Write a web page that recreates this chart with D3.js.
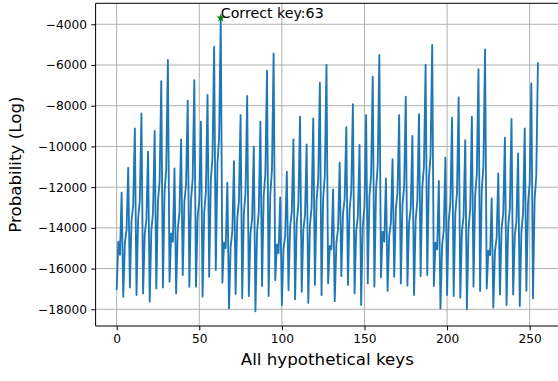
<!DOCTYPE html>
<html>
<head>
  <meta charset="utf-8">
  <title>Key ranking</title>
  <script src="https://d3js.org/d3.v7.min.js"></script>
  <style>
    body { margin: 0; background: #fff; }
    svg { display: block; }
  </style>
</head>
<body>
  <div id="chart"></div>
  <script>
  // log-probability per hypothetical key (0..255)
  var logProb = [
    -17050, -14680, -15330, -12270,  -17380, -14720, -14090, -11050,
    -16930, -13650, -12860,  -9110,  -17300, -13550, -12660,  -8380,
    -17220, -14300, -13600, -10260,  -17630, -14110, -13270,  -9240,
    -16980, -12700, -11680,  -6790,  -16930, -12230, -11120,  -5750,
    -16650, -14270, -14680, -11080,  -17220, -14040, -13280,  -9650,
    -16320, -12720, -11860,  -7750,  -16890, -12630, -11610,  -6740,
    -16890, -13480, -12670,  -8780,  -17380, -13220, -12230,  -7470,
    -16400, -11650, -10520,  -5100,  -16070, -10850,  -9600,  -3690,
    -16700, -14730, -15000, -11780,  -17960, -14920, -14200, -10720,
    -17250, -13560, -12680,  -8460,  -17460, -13290, -12290,  -7520,
    -17350, -14270, -13530, -10010,  -18100, -14170, -13240,  -8780,
    -16860, -12420, -11360,  -6280,  -17350, -12340, -11150,  -5430,
    -16560, -14810, -15250, -12500,  -17790, -15040, -14380, -11240,
    -17060, -13950, -13210,  -9650,  -17510, -13740, -12850,  -8540,
    -17140, -14100, -13380,  -9900,  -17680, -13880, -12970,  -8620,
    -16810, -12640, -11640,  -6870,  -17300, -12550, -11420,  -6000,
    -16730, -14890, -15060, -12110,  -17600, -14740, -14060, -10800,
    -16370, -13300, -12570,  -9060,  -16810, -13080, -12190,  -7920,
    -17220, -14160, -13430,  -9930,  -17790, -13870, -12940,  -8460,
    -16730, -12460, -11450,  -6570,  -16890, -12110, -10970,  -5510,
    -16430, -14190, -14680, -11570,  -17090, -14380, -13730, -10630,
    -16400, -13070, -12270,  -8460,  -16730, -12880, -11960,  -7560,
    -16840, -13750, -13020,  -9490,  -17300, -13570, -12680,  -8410,
    -16370, -12010, -10980,  -6000,  -16320, -11570, -10440,  -5020,
    -16860, -14730, -15060, -11700,  -17960, -14850, -14110, -10550,
    -17300, -13640, -12770,  -8590,  -17350, -13250, -12280,  -7590,
    -17430, -14180, -13410,  -9690,  -18000, -14030, -13080,  -8540,
    -16890, -12400, -11340,  -6210,  -17100, -12120, -10930,  -5230,
    -16980, -15120, -15340, -12550,  -17910, -15140, -14480, -11320,
    -17270, -14040, -13270,  -9570,  -17790, -13950, -13040,  -8650,
    -17270, -14360, -13670, -10340,  -17840, -14170, -13300,  -9110,
    -17090, -12810, -11790,  -6900,  -17460, -12590, -11430,  -5870
  ];
  var correctKey = 63;

  var xTicks = [0, 50, 100, 150, 200, 250];
  var xTickLabels = ["0", "50", "100", "150", "200", "250"];
  var yTicks = [-18000, -16000, -14000, -12000, -10000, -8000, -6000, -4000];
  var yTickLabels = ["\u221218000", "\u221216000", "\u221214000", "\u221212000",
                     "\u221210000", "\u22128000", "\u22126000", "\u22124000"];

  var W = 558, H = 381;
  // right edge of the axes falls just outside the picture
  var plot = {left: 95.6, right: 559, top: 3.3, bottom: 326};
  var font = "DejaVu Sans, sans-serif";

  var svg = d3.select("#chart").append("svg")
    .attr("width", W)
    .attr("height", H);

  // matplotlib-like autoscale: 5% margin on both axes
  var n = logProb.length;
  var xPad = (n - 1) * 0.05;
  var x = d3.scaleLinear()
    .domain([-xPad, n - 1 + xPad])
    .range([plot.left, plot.right]);

  var yMin = d3.min(logProb), yMax = d3.max(logProb);
  var yPad = (yMax - yMin) * 0.05;
  var y = d3.scaleLinear()
    .domain([yMin - yPad, yMax + yPad])
    .range([plot.bottom, plot.top]);

  // grid
  svg.append("g").selectAll("line")
    .data(xTicks).enter().append("line")
      .attr("x1", function(d) { return x(d); })
      .attr("x2", function(d) { return x(d); })
      .attr("y1", plot.top).attr("y2", plot.bottom)
      .attr("stroke", "#b0b0b0").attr("stroke-width", 1);
  svg.append("g").selectAll("line")
    .data(yTicks).enter().append("line")
      .attr("x1", plot.left).attr("x2", plot.right)
      .attr("y1", function(d) { return y(d); })
      .attr("y2", function(d) { return y(d); })
      .attr("stroke", "#b0b0b0").attr("stroke-width", 1);

  // the curve
  var line = d3.line()
    .x(function(d, i) { return x(i); })
    .y(function(d) { return y(d); });
  svg.append("path")
    .datum(logProb)
    .attr("d", line)
    .attr("fill", "none")
    .attr("stroke", "#1f77b4")
    .attr("stroke-width", 1.85)
    .attr("stroke-linejoin", "round");

  // axes
  var xAxis = svg.append("g")
    .attr("transform", "translate(0," + plot.bottom + ")")
    .call(d3.axisBottom(x).tickValues(xTicks)
      .tickFormat(function(d, i) { return xTickLabels[i]; })
      .tickSize(4.3).tickPadding(4.3));
  var yAxis = svg.append("g")
    .attr("transform", "translate(" + plot.left + ",0)")
    .call(d3.axisLeft(y).tickValues(yTicks)
      .tickFormat(function(d, i) { return yTickLabels[i]; })
      .tickSize(4.3).tickPadding(4.3));
  [xAxis, yAxis].forEach(function(a) {
    a.select(".domain").remove();
    a.selectAll(".tick line").attr("stroke", "#000").attr("stroke-width", 1);
    a.selectAll(".tick text")
      .attr("fill", "#000")
      .style("font-family", font)
      .style("font-size", "12.2px");
  });

  // spines (left, top, bottom)
  svg.append("path")
    .attr("d", "M" + plot.right + "," + plot.top +
               "H" + plot.left + "V" + plot.bottom + "H" + plot.right)
    .attr("fill", "none")
    .attr("stroke", "#000")
    .attr("stroke-width", 1);

  // correct key marker + label
  var ck = logProb[correctKey];
  svg.append("path")
    .attr("d", d3.symbol().type(d3.symbolStar).size(24))
    .attr("transform", "translate(" + x(correctKey) + "," + y(ck) + ")")
    .attr("fill", "green");
  svg.append("text")
    .attr("x", x(correctKey))
    .attr("y", y(ck))
    .style("font-family", font)
    .style("font-size", "14.2px")
    .attr("fill", "#000")
    .text("Correct key:" + correctKey);

  // axis labels
  svg.append("text")
    .attr("text-anchor", "middle")
    .attr("x", (plot.left + plot.right) / 2)
    .attr("y", 364.5)
    .style("font-family", font)
    .style("font-size", "16.7px")
    .text("All hypothetical keys");
  svg.append("text")
    .attr("text-anchor", "middle")
    .attr("transform", "translate(20.5," + (plot.top + plot.bottom) / 2 + ") rotate(-90)")
    .style("font-family", font)
    .style("font-size", "16.7px")
    .text("Probability (Log)");
  </script>
</body>
</html>
